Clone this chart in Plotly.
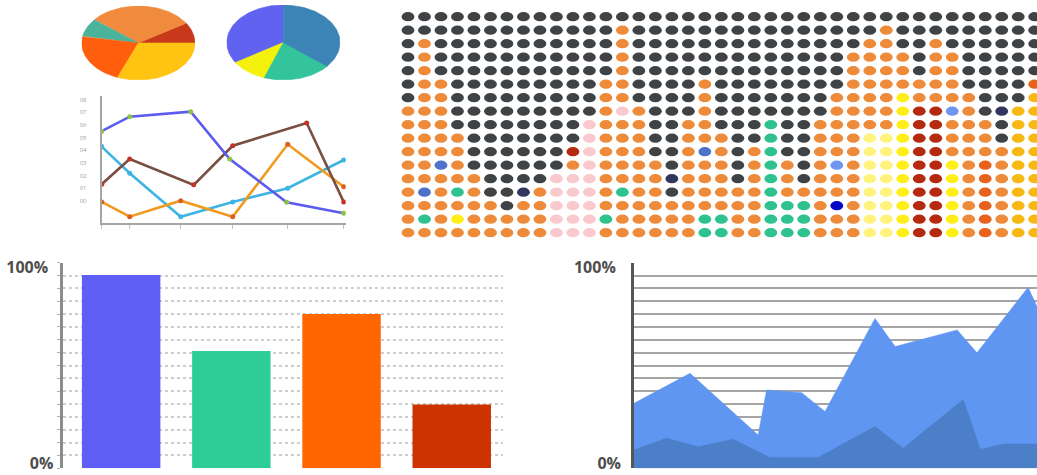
import numpy as np
import plotly.graph_objects as go

W, H = 1037, 475

# ---------------- data ----------------
# two small pies (values counter-clockwise from the start angle)
pie1_values = [9, 30, 8, 22, 31]
pie1_colors = ["#C8381A", "#F08A3C", "#4CB39B", "#FF5E0C", "#FFC312"]
pie1_start = 0
pie2_values = [34, 10.5, 19.5, 36]
pie2_colors = ["#6063F0", "#F4F20C", "#33C49B", "#3B84B5"]
pie2_start = 90

# small line chart
line_tick_x = [0, 28, 79, 131, 186, 242]
line_tick_y = [0, 1, 2, 3, 4, 5, 6, 7, 8]
line_tick_text = ["00", "01", "02", "03", "04", "05", "06", "07", "08"]
cyan_x = [0, 28, 79, 131, 186, 242]
cyan_y = [4.28, 2.17, -1.27, -0.1, 0.98, 3.22]
orange_x = [0, 28, 79, 131, 186, 242]
orange_y = [-0.1, -1.27, 0.0, -1.27, 4.47, 1.1]
brown_x = [0, 28, 92, 131, 205, 242]
brown_y = [1.3, 3.3, 1.25, 4.35, 6.15, -0.1]
blue_x = [0, 28, 89, 128, 185, 242]
blue_y = [5.5, 6.65, 7.05, 3.3, -0.12, -1.0]

# dot matrix, one string per column (top row first)
dot_columns = [
    "DDDDDDDOOOOOOOOOO", "DDOOOOOOOOOOOBOGO", "DDDDDOOOOOOBOOOOO", "DDDDDDDDDOOOOGOYO",
    "DDDDDDDDDDDDOOOOO", "DDDDDDDDDDDDDDOOO", "DDDDDDDDDDDDDDDOO", "DDDDDDDDDDDDDKOOO",
    "DDDDDDDDDDDDDOOOO", "DDDDDDDDDDDDPPPPP", "DDDDDDDDDDROPPPPP", "DDDDDDDDPPPPPPPPP",
    "DDDDDOOOOOOOOOOGO", "DOOOOOOPOOOOOGOOO", "DDDDDDDOOOOOOOOOO", "DDDDDDDDDDDOOOOOO",
    "DDDDDDDDDDDDKDOOO", "DDDDDDDDOOOOOOOOO", "DDDDDOOOOOBOOOOGG", "DDDDDDDDDOOOOOOGG",
    "DDDDDDDDDDDDDOOOO", "DDDDDDDDDDOOOOOOO", "DDDDDDDDGGGGGGGGG", "DDDDDDDDDDDOOOGGG",
    "DDDDDDDDDDDDDOGGG", "DDDDDDDDOOOOOOOOO", "DDDDDDOOOOOLOONOO", "DDDOOOOOOOOOOOOOO",
    "DDOOOOOOOWWWWWWWW", "DOOOOOOOOWWWWWWWW", "DDDOOOYYYYYYYYYYY", "DDDDDOORRRRRRRRRR",
    "DDOOOOORRRRRRRRRR", "DDDOOOOLOOOYYYYYY", "DDDDDDOOOOOOOOOOO", "DDDDDDDDOOOEEEEEE",
    "DDDDDDDKDDOOOOOOO", "DDDDDDDAAAAAAAAAA", "DDDDDEAAAAAAAAAAA",
]
dot_palette = {
    "D": "#404346", "O": "#EE8B3A", "P": "#F9C9CE", "R": "#B52A0E", "B": "#4E72C9",
    "L": "#6F95EE", "N": "#0505C8", "K": "#31365E", "G": "#2EC28E", "Y": "#FFEE18",
    "W": "#FFF37E", "A": "#F7B814", "E": "#E8621C",
}

# bar chart
bar_categories = ["A", "B", "C", "D"]
bar_values = [94, 57, 75, 31]
bar_colors = ["#5F5EF6", "#2ECC97", "#FF6600", "#CC3300"]

# area chart
light_x = [0, 13.9, 30.8, 32.9, 41.6, 47.4, 59.8, 64.8, 80.2, 85.1, 97.8, 100]
light_y = [31.6, 46.2, 16.2, 38.1, 36.8, 27.6, 72.9, 59.2, 67.3, 56.2, 88.0, 78.6]
dark_x = [0, 8.1, 16, 24.6, 33.7, 45.7, 59.8, 66.8, 81.7, 85.9, 91.7, 100]
dark_y = [8.9, 14.6, 10.5, 14.1, 5.3, 5.3, 20.3, 9.7, 33.5, 9.2, 11.8, 11.8]

# percentage axis labels: the top one sits a little below its line,
# the bottom one a little above the baseline
pct_top_tick, pct_top_text = [100], ["100%"]
pct_low_tick, pct_low_text = [0], ["0%"]


# ---------------- helpers ----------------
def dom_x(left, right):
    return [left / W, right / W]


def dom_y(top, bottom):
    return [(H - bottom) / H, (H - top) / H]


def pie_wedges(values, colors, start, xa, ya):
    total = float(sum(values))
    a0 = start
    out = []
    for v, c in zip(values, colors):
        a1 = a0 + 360.0 * v / total
        t = np.radians(np.linspace(a0, a1, 80))
        xs = np.concatenate([[0], np.cos(t), [0]])
        ys = np.concatenate([[0], np.sin(t), [0]])
        out.append(go.Scatter(x=xs, y=ys, mode="lines", fill="toself", fillcolor=c,
                              line=dict(width=0.6, color=c), xaxis=xa, yaxis=ya,
                              hoverinfo="skip"))
        a0 = a1
    return out


fig = go.Figure()

# pies
for tr in pie_wedges(pie1_values, pie1_colors, pie1_start, "x", "y"):
    fig.add_trace(tr)
for tr in pie_wedges(pie2_values, pie2_colors, pie2_start, "x2", "y2"):
    fig.add_trace(tr)

# line chart
line_specs = [
    (cyan_x, cyan_y, "#3DB4E2", "#3DB4E2"),
    (orange_x, orange_y, "#F29A1E", "#D9601E"),
    (brown_x, brown_y, "#7A4E40", "#C2352A"),
    (blue_x, blue_y, "#5B5BEF", "#8BC34A"),
]
for xs, ys, lc, mc in line_specs:
    fig.add_trace(go.Scatter(x=xs, y=ys, mode="lines+markers",
                             line=dict(color=lc, width=2.6),
                             marker=dict(color=mc, size=5),
                             xaxis="x3", yaxis="y3", hoverinfo="skip"))

# bars
fig.add_trace(go.Bar(x=bar_categories, y=bar_values, marker=dict(color=bar_colors, line=dict(width=0)),
                     xaxis="x5", yaxis="y5", hoverinfo="skip"))

# area chart
fig.add_trace(go.Scatter(x=light_x, y=light_y, mode="lines", fill="tozeroy",
                         fillcolor="#5E96F2", line=dict(color="#5E96F2", width=0.5),
                         xaxis="x6", yaxis="y6", hoverinfo="skip"))
fig.add_trace(go.Scatter(x=dark_x, y=dark_y, mode="lines", fill="tozeroy",
                         fillcolor="#4B7FC8", line=dict(color="#4B7FC8", width=0.5),
                         xaxis="x6", yaxis="y6", hoverinfo="skip"))

# empty traces so the overlaid label axes get drawn
fig.add_trace(go.Scatter(x=[None], y=[None], xaxis="x5", yaxis="y7", showlegend=False, hoverinfo="skip"))
fig.add_trace(go.Scatter(x=[None], y=[None], xaxis="x6", yaxis="y8", showlegend=False, hoverinfo="skip"))

# dot matrix as elliptical shapes on its own axes
shapes = []
for ci, col in enumerate(dot_columns):
    for ri, key in enumerate(col):
        shapes.append(dict(type="circle", xref="x4", yref="y4",
                           x0=ci - 0.39, x1=ci + 0.39, y0=ri - 0.34, y1=ri + 0.34,
                           fillcolor=dot_palette[key], line=dict(width=0)))

hidden = dict(visible=False, showgrid=False, zeroline=False, fixedrange=True, automargin=False)
label_font = dict(family="Open Sans", size=16, color="#4D4D4D", weight="bold")
pct_dom = dom_y(262.7, 468.3)

fig.update_layout(
    template="none",
    width=W, height=H,
    margin=dict(l=0, r=0, t=0, b=0, pad=0, autoexpand=False),
    paper_bgcolor="white", plot_bgcolor="white",
    showlegend=False, bargap=0.288,
    shapes=shapes,
    # pies
    xaxis=dict(hidden, domain=dom_x(81.7, 195), range=[-1, 1]),
    yaxis=dict(hidden, domain=dom_y(6, 80), range=[-1, 1]),
    xaxis2=dict(hidden, domain=dom_x(226.7, 340), range=[-1, 1]),
    yaxis2=dict(hidden, domain=dom_y(5, 80), range=[-1, 1]),
    # line chart
    xaxis3=dict(domain=dom_x(101.7, 345.7), range=[0, 244], anchor="y3", automargin=False,
                showline=True, linecolor="#A6A6A6", linewidth=2, showgrid=False,
                zeroline=False, ticks="outside", tickvals=line_tick_x, ticklen=4,
                tickcolor="#C4C4C4", showticklabels=False),
    yaxis3=dict(domain=dom_y(96, 223), range=[-1.77, 8.29], anchor="x3", automargin=False,
                showline=True, linecolor="#A6A6A6", linewidth=2, showgrid=False,
                zeroline=False, ticks="", tickvals=line_tick_y, ticktext=line_tick_text,
                tickfont=dict(size=6, color="#A0A0A0"), ticklabelstandoff=12),
    # dot matrix
    xaxis4=dict(hidden, domain=dom_x(395, 1037), range=[-0.788, 38.14], anchor="y4"),
    yaxis4=dict(hidden, domain=dom_y(5, 245), range=[16.91, -0.867], anchor="x4"),
    # bar chart
    xaxis5=dict(domain=dom_x(63.3, 503.3), range=[-0.525, 3.468], anchor="y5", automargin=False,
                showline=False, showgrid=False, zeroline=False, showticklabels=False, ticks=""),
    yaxis5=dict(domain=pct_dom, range=[0, 100], anchor="x5", automargin=False,
                showline=True, linecolor="#8C8C8C", linewidth=3, ticks="",
                tickvals=pct_top_tick, ticktext=pct_top_text, tickfont=label_font,
                ticklabelstandoff=9, ticklabelshift=5, zeroline=False,
                showgrid=True, gridcolor="#CDCDCD", griddash="dot", gridwidth=1.5,
                minor=dict(dtick=6.25, showgrid=True, gridcolor="#CDCDCD",
                           griddash="dot", gridwidth=1.5, ticks="outside",
                           ticklen=3, tickcolor="#B0B0B0")),
    yaxis7=dict(domain=pct_dom, range=[0, 100], anchor="x5", overlaying="y5", side="left",
                automargin=False, showline=False, showgrid=False, zeroline=False, ticks="",
                tickvals=pct_low_tick, ticktext=pct_low_text, tickfont=label_font,
                ticklabelstandoff=9, ticklabelshift=-5, ticklabeloverflow="allow"),
    # area chart
    xaxis6=dict(domain=dom_x(634, 1037), range=[0, 100], anchor="y6", automargin=False,
                showline=False, showgrid=False, zeroline=False, showticklabels=False, ticks=""),
    yaxis6=dict(domain=pct_dom, range=[0, 100], anchor="x6", automargin=False,
                showline=True, linecolor="#555555", linewidth=3, ticks="",
                tickvals=pct_top_tick, ticktext=pct_top_text, tickfont=label_font,
                ticklabelstandoff=12, ticklabelshift=5, zeroline=False,
                showgrid=True, gridcolor="#A5A5A5", gridwidth=2,
                minor=dict(dtick=6.25, showgrid=True, gridcolor="#A5A5A5", gridwidth=2)),
    yaxis8=dict(domain=pct_dom, range=[0, 100], anchor="x6", overlaying="y6", side="left",
                automargin=False, showline=False, showgrid=False, zeroline=False, ticks="",
                tickvals=pct_low_tick, ticktext=pct_low_text, tickfont=label_font,
                ticklabelstandoff=12, ticklabelshift=-5, ticklabeloverflow="allow"),
)

fig.write_html("out.html")
